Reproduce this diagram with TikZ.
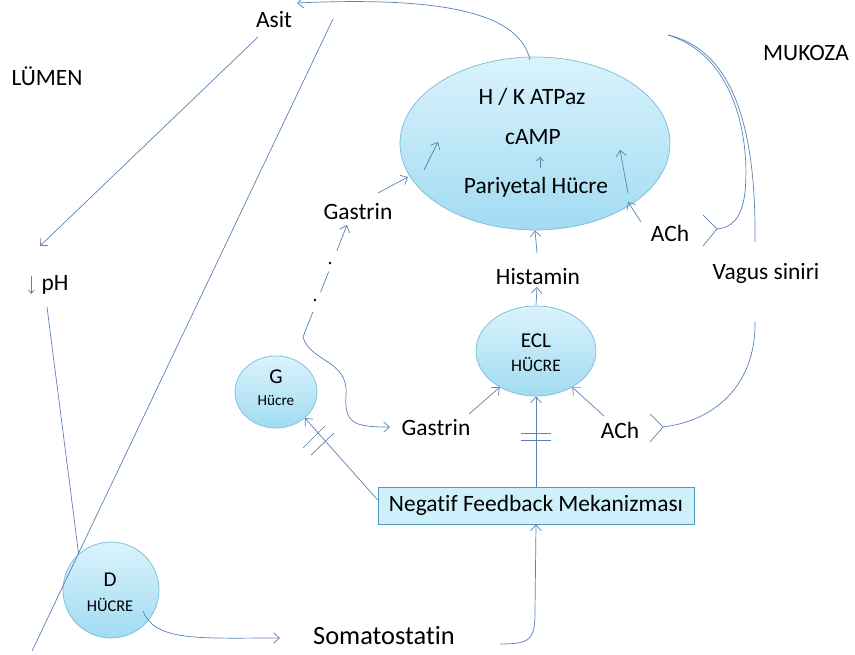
\documentclass[tikz,border=0pt]{standalone}
\usepackage{fontspec}
\setmainfont{Carlito}[Ligatures={NoCommon}]
\usetikzlibrary{arrows.meta,shapes.geometric,shadows,calc}
\definecolor{lnc}{HTML}{5A82B5}
\definecolor{celltop}{HTML}{DAF3FC}
\definecolor{cellbot}{HTML}{A2DBF2}
\definecolor{cellb}{HTML}{78BCD6}
\definecolor{boxfill}{HTML}{CDF0FA}
\definecolor{boxb}{HTML}{4F9BC4}
\begin{document}
\begin{tikzpicture}[x=0.03cm,y=-0.03cm,
  ln/.style={draw=lnc,line width=0.6pt},
  arr/.style={ln,-{Straight Barb[length=5pt,width=9pt]}},
  txt/.style={inner sep=0pt,font=\fontsize{20}{24}\selectfont},
  bigtxt/.style={inner sep=0pt,font=\fontsize{22.5}{26}\selectfont},
  celltxt/.style={inner sep=0pt,font=\fontsize{18}{21}\selectfont},
  smalltxt/.style={inner sep=0pt,font=\fontsize{14}{16}\selectfont},
  cell/.style={ellipse,draw=cellb,line width=0.6pt,top color=celltop,bottom color=cellbot,inner sep=0pt},
  fbbox/.style={rectangle,draw=boxb,line width=0.6pt,fill=boxfill,inner sep=0pt,
    minimum width=9.48cm,minimum height=1.11cm,font=\fontsize{20}{24}\selectfont,
    drop shadow={opacity=0.35,shadow xshift=1.2pt,shadow yshift=-1.2pt}}]
\useasboundingbox (0,0) rectangle (855,655);

% cells
\node[cell,minimum width=8.1cm,minimum height=5.19cm] (pc) at (535,143.5) {};
\node[cell,minimum width=3.6cm,minimum height=2.7cm] (ecl) at (536,351) {};
\node[cell,minimum width=2.46cm,minimum height=2.16cm] (g) at (276,392) {};
\node[cell,minimum width=2.88cm,minimum height=2.88cm] (d) at (111,590) {};
\node[fbbox] (box) at (536,505.5) {Negatif Feedback Mekanizması};

% texts
\node[txt] (asit) at (274,20) {Asit};
\node[txt] (lumen) at (47,76) {LÜMEN};
\node[txt] (mukoza) at (806,53) {MUKOZA};
\node[txt] (ph) at (55,285) {pH};
\node[txt] (hk) at (532,97) {H / K ATPaz};
\node[txt] (camp) at (533,137) {cAMP};
\node[txt] (par) at (536,187) {Pariyetal Hücre};
\node[txt] (gas1) at (358,212) {Gastrin};
\node[txt] (ach1) at (670,233) {ACh};
\node[txt] (hist) at (538,277) {Histamin};
\node[txt] (vagus) at (766,273) {Vagus siniri};
\node[celltxt] (ecll) at (536,341) {ECL};
\node[smalltxt,font=\fontsize{15}{17}\selectfont] (eclh) at (536,365) {HÜCRE};
\node[celltxt] (gl) at (276,377) {G};
\node[smalltxt,font=\fontsize{13}{15}\selectfont] (gh) at (276,401) {Hücre};
\node[txt] (gas2) at (436,428) {Gastrin};
\node[txt] (ach2) at (620,430) {ACh};
\node[celltxt] (dl) at (110,580) {D};
\node[smalltxt] (dh) at (110,605) {HÜCRE};
\node[bigtxt] (soma) at (384,636) {Somatostatin};

% helper coordinates
\coordinate (asitA) at (258,37);
\coordinate (phTop) at (40,246);
\coordinate (phBot) at (47,307);
\coordinate (longT) at (333,19);
\coordinate (longB) at (32,651);
\coordinate (dOut) at (143,611);
\coordinate (somaIn) at (280,638);
\coordinate (somaOut) at (500,644);
\coordinate (topA) at (530,60);
\coordinate (asitIn) at (297,3);
\coordinate (branch) at (303,337);
\coordinate (gasUp) at (347,225);
\coordinate (gas2In) at (390,427);
\coordinate (fork1) at (717,229);
\coordinate (fork2) at (663,427);
\coordinate (vagTop) at (668,35);

% pH down arrow
\draw[ln,-{Straight Barb[length=3pt,width=5pt]}] ($(ph.west)+(-10,-9)$) -- ($(ph.west)+(-10,9)$);

% acid -> pH, pH -> D
\draw[arr] (asitA) -- (phTop);
\draw[ln] (phBot) -- (d.132);
\draw[ln] (longT) -- (longB);

% D -> somatostatin -> box
\draw[arr] (dOut) .. controls (155,642) and (200,638) .. (somaIn);
\draw[arr] (somaOut) .. controls (530,644) and (535,640) .. (535,612) -- (box.south);

% box -> ECL with hash marks
\draw[arr] (box.north) -- (ecl.south);
\draw[ln] (521,433) -- (551,433) (521,440) -- (551,440);

% box -> G with hash marks
\draw[arr] (box.west |- 0,500) -- (g.-42);
\draw[ln] (303,448) -- (325,426) (311,455) -- (334,433);

% ECL -> histamine -> pariyetal
\draw[arr] (ecl.north) -- (537,287);
\draw[arr] (537,253) -- (pc.south);

% gastrin, ACh -> ECL
\draw[arr] (469,414) -- (ecl.-135);
\draw[arr] (604,416) -- (ecl.-45);

% gastrin, ACh -> pariyetal
\draw[arr] (378,193) -- (408,177);
\draw[arr] (641,222) -- (628,202);

% arrows inside pariyetal cell
\draw[arr] (424,170) -- (438,142);
\draw[arr] (628,193) -- (620,150);
\draw[ln,-{Straight Barb[length=3pt,width=6pt]}] (540,168) -- (540,157);

% pariyetal -> acid
\draw[arr] (topA) .. controls (520,15) and (450,-4) .. (asitIn);

% G cell: gastrin branches
\draw[ln,-{Straight Barb[length=5pt,width=9pt]},dash pattern=on 23pt off 18pt on 19pt off 19pt on 40pt] (branch) -- (gasUp);
\fill (315,300) circle (1.3);
\fill (330,263) circle (1.3);
\draw[arr] (branch) .. controls (310,362) and (349,360) .. (346,395) .. controls (344,424) and (355,427) .. (gas2In);

% vagus nerve
\draw[ln] (vagTop) .. controls (742,52) and (756,150) .. (755,242);
\draw[ln] (vagTop) .. controls (736,56) and (750,140) .. (745,192) .. controls (742,220) and (730,228) .. (fork1);
\draw[ln] (703,215) -- (fork1) -- (703,246);
\draw[ln] (fork2) .. controls (720,420) and (756,380) .. (755,322);
\draw[ln] (650,414) -- (fork2) -- (650,442);
\end{tikzpicture}
\end{document}
